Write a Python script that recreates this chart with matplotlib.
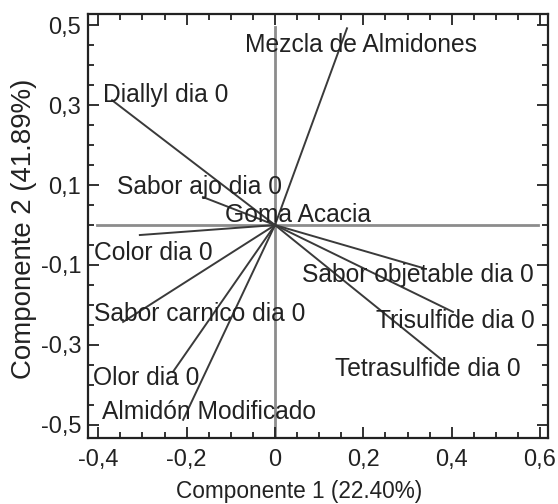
import matplotlib
matplotlib.use("Agg")
import matplotlib.pyplot as plt
from matplotlib.ticker import MultipleLocator, FuncFormatter

plt.rcParams['font.family'] = ['Liberation Sans', 'DejaVu Sans']

# loadings (componente 1, componente 2)
nombres = ["Mezcla de Almidones", "Diallyl dia 0", "Sabor ajo dia 0", "Goma Acacia",
           "Color dia 0", "Sabor carnico dia 0", "Olor dia 0", "Almidón Modificado",
           "Sabor objetable dia 0", "Trisulfide dia 0", "Tetrasulfide dia 0"]
comp1 = [0.163, -0.369, -0.163, -0.015, -0.306, -0.344, -0.231, -0.208, 0.335, 0.403, 0.378]
comp2 = [0.4925, 0.3125, 0.07, 0.008, -0.025, -0.2425, -0.3675, -0.4875, -0.1075, -0.2175, -0.3375]

# where the labels sit
lab_x = [-0.068, -0.389, -0.358, -0.113, -0.410, -0.410, -0.412, -0.392, 0.061, 0.229, 0.136]
lab_y = [0.45, 0.325, 0.096, 0.026, -0.071, -0.222, -0.384, -0.467, -0.124, -0.241, -0.361]

fig = plt.figure(figsize=(5.58, 5.04), dpi=100)
ax = fig.add_axes([0.158, 0.131, 0.824, 0.841])

ax.plot([-0.403, 0.595], [0, 0], color='#8c8c8c', lw=2, zorder=1)
ax.plot([0, 0], [0.495, -0.533], color='#8c8c8c', lw=2, zorder=1)

for x, y in zip(comp1, comp2):
    ax.plot([0, x], [0, y], color='#3a3a3a', lw=1.4, zorder=2)

for n, x, y in zip(nombres, lab_x, lab_y):
    ax.text(x, y, n, ha='left', va='center', fontsize=17.7, color='#222222', zorder=3)

ax.set_xlim(-0.423, 0.618)
ax.set_ylim(-0.533, 0.528)
ax.xaxis.set_major_locator(MultipleLocator(0.2))
ax.xaxis.set_minor_locator(MultipleLocator(0.05))
ax.yaxis.set_major_locator(MultipleLocator(0.2))
ax.yaxis.set_minor_locator(MultipleLocator(0.05))
ax.set_yticks([-0.5, -0.3, -0.1, 0.1, 0.3, 0.5])


def coma(v, pos):
    if abs(v) < 1e-9:
        return "0"
    return ("%.1f" % v).replace(".", ",")


ax.xaxis.set_major_formatter(FuncFormatter(coma))
ax.yaxis.set_major_formatter(FuncFormatter(coma))
ax.tick_params(which='both', direction='in', top=True, right=True, labelsize=17,
               colors='#222222', width=1.3)
ax.tick_params(which='major', length=8)
ax.tick_params(axis='x', which='major', pad=8)
ax.tick_params(axis='y', which='major', pad=5)
ax.tick_params(which='minor', length=4)
for s in ax.spines.values():
    s.set_linewidth(1.6)
    s.set_color('#222222')

ax.set_xlabel("Componente 1 (22.40%)", fontsize=16.3, color='#222222')
ax.set_ylabel("Componente 2 (41.89%)", fontsize=19.9, color='#222222')
ax.xaxis.label.set_va('center')
ax.yaxis.label.set_va('center')
ax.xaxis.set_label_coords(0.459, -0.127)
ax.yaxis.set_label_coords(-0.139, 0.493)

fig.savefig("out.png", dpi=100)
